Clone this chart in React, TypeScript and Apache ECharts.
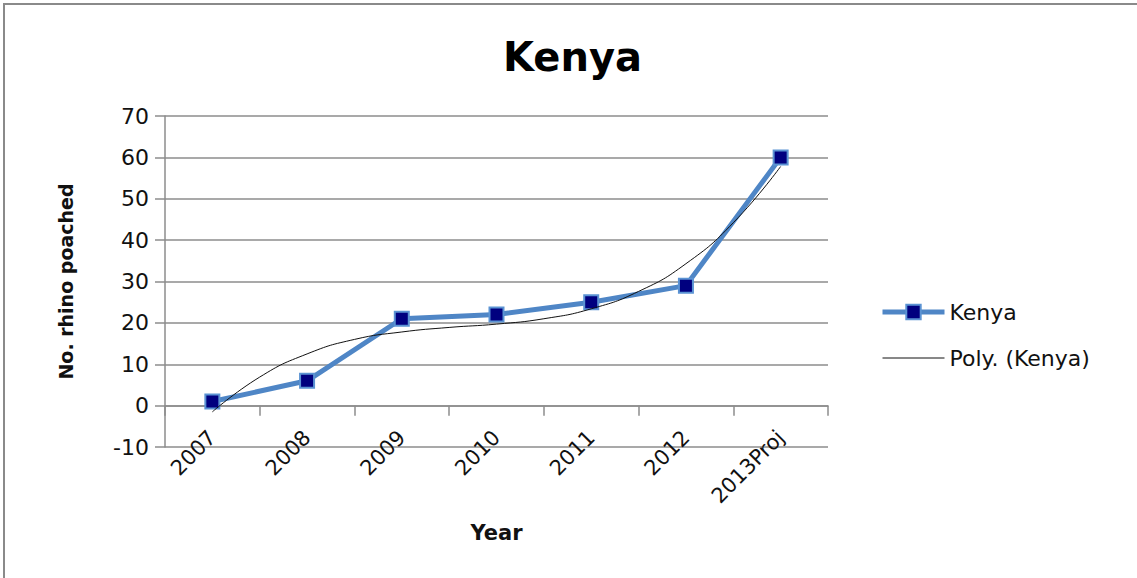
import React, { useEffect, useRef } from "react";
import * as echarts from "echarts";

const categories = ["2007", "2008", "2009", "2010", "2011", "2012", "2013Proj"];
const kenyaValues = [1, 6, 21, 22, 25, 29, 60];
// Trendline (Poly.) at each category and half-way between
const polyX = [0, 0.5, 1, 1.5, 2, 2.5, 3, 3.5, 4, 4.5, 5, 5.5, 6];
const polyY = [-1.5, 6.9, 12.5, 16, 17.8, 18.9, 19.7, 21, 23.4, 27.6, 34.3, 44.2, 57.8];
const yTicks = { min: -10, max: 70, interval: 10 };

export default function App() {
  const ref = useRef<HTMLDivElement>(null);
  useEffect(() => {
    if (!ref.current) return;
    const chart = echarts.init(ref.current, null, { renderer: "svg" });
    const font = "'DejaVu Sans', 'Open Sans', sans-serif";
    chart.setOption({
      animation: false,
      backgroundColor: "#ffffff",
      textStyle: { fontFamily: font },
      title: {
        text: "Kenya",
        left: 498,
        top: 32,
        textStyle: { fontSize: 40, fontWeight: "bold", color: "#000", fontFamily: font },
      },
      graphic: [
        {
          type: "rect",
          shape: { x: 4, y: 4, width: 1200, height: 700 },
          style: { fill: "none", stroke: "#8a8a8a", lineWidth: 2 },
          silent: true,
        },
      ],
      legend: {
        orient: "vertical",
        left: 875,
        top: 296,
        itemWidth: 62,
        itemHeight: 18,
        itemGap: 24,
        textStyle: { fontSize: 22, color: "#111", fontFamily: font },
        data: [
          { name: "Kenya", lineStyle: { width: 5, color: "#4f86c6" } },
          { name: "Poly. (Kenya)", lineStyle: { width: 1, color: "#111" }, itemStyle: { opacity: 0 } },
        ],
      },
      grid: { left: 165, right: 309, top: 116, bottom: 131, containLabel: false, outerBoundsMode: "none" },
      xAxis: [
        {
          type: "category",
          data: categories,
          boundaryGap: true,
          name: "Year",
          nameLocation: "middle",
          nameGap: 75,
          nameMoveOverlap: false,
          nameTextStyle: { fontSize: 21, fontWeight: "bold", color: "#111" },
          axisLine: { onZero: true, lineStyle: { color: "#8c8c8c", width: 1.5 } },
          axisTick: { show: true, alignWithLabel: false, length: 10, lineStyle: { color: "#8c8c8c", width: 1.5 } },
          axisLabel: { rotate: 45, fontSize: 21, color: "#111", margin: -13, interval: 0 },
          splitLine: { show: false },
        },
        {
          type: "value",
          min: -0.5,
          max: 6.5,
          show: false,
        },
      ],
      yAxis: {
        type: "value",
        min: yTicks.min,
        max: yTicks.max,
        interval: yTicks.interval,
        name: "No. rhino poached",
        nameLocation: "middle",
        nameGap: 90,
        nameMoveOverlap: false,
        nameTextStyle: { fontSize: 19, fontWeight: "bold", color: "#111" },
        axisLine: { show: true, onZero: false, lineStyle: { color: "#8c8c8c", width: 1.5 } },
        axisTick: { show: true, length: 10, lineStyle: { color: "#8c8c8c", width: 1.5 } },
        axisLabel: { fontSize: 22, color: "#111", margin: 16 },
        splitLine: { show: true, lineStyle: { color: "#8c8c8c", width: 1.5 } },
      },
      series: [
        {
          name: "Kenya",
          type: "line",
          xAxisIndex: 0,
          data: kenyaValues,
          symbol: "rect",
          symbolSize: 14,
          lineStyle: { color: "#4f86c6", width: 5 },
          itemStyle: { color: "#00007f", borderColor: "#5b93d3", borderWidth: 2 },
          z: 3,
        },
        {
          name: "Poly. (Kenya)",
          type: "line",
          xAxisIndex: 1,
          data: polyX.map((x, i) => [x, polyY[i]]),
          smooth: true,
          symbol: "none",
          lineStyle: { color: "#111", width: 1 },
          itemStyle: { color: "#111" },
          z: 4,
        },
      ],
    });
    return () => chart.dispose();
  }, []);
  return (
    <div
      ref={ref}
      style={{ position: "absolute", left: 0, top: 0, width: 1137, height: 578 }}
    />
  );
}
